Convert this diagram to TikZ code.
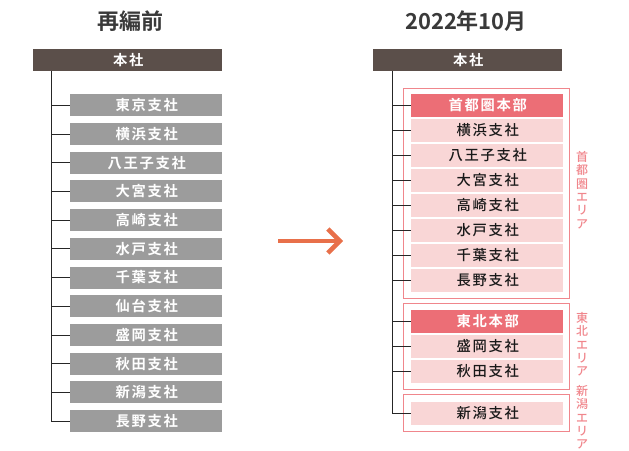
\documentclass[tikz,border=0pt]{standalone}
\usepackage{fontspec}
\setmainfont{Noto Sans CJK JP}
\newfontfamily\jpb{Noto Sans CJK JP Bold}[LetterSpace=12]
\newfontfamily\jpr{Noto Sans CJK JP Medium}[LetterSpace=12]
\newfontfamily\jpt{Noto Sans CJK JP Bold}
\newfontfamily\jpa{Noto Sans CJK JP Medium}
\usetikzlibrary{arrows.meta}
\definecolor{hq}{HTML}{5B4F4A}
\definecolor{greybox}{HTML}{9C9C9C}
\definecolor{hdr}{HTML}{EC6E76}
\definecolor{lpink}{HTML}{F9D6D6}
\definecolor{frame}{HTML}{F0868C}
\definecolor{arrowc}{HTML}{E8704A}
\definecolor{ttl}{HTML}{3A3A3A}
\begin{document}
\begin{tikzpicture}[x=1pt,y=-1pt,
  hqbox/.style={fill=hq,text=white,minimum width=189pt,minimum height=22pt,inner sep=0pt,font=\jpb\fontsize{14.3}{14}\selectfont},
  oldbox/.style={fill=greybox,text=white,minimum width=152pt,minimum height=22pt,inner sep=0pt,font=\jpb\fontsize{14.3}{14}\selectfont},
  hdrbox/.style={fill=hdr,text=white,minimum width=152pt,minimum height=23pt,inner sep=0pt,font=\jpb\fontsize{14.3}{14}\selectfont},
  newbox/.style={fill=lpink,text=black!90,minimum width=152pt,minimum height=23pt,inner sep=0pt,font=\jpr\fontsize{14.3}{14}\selectfont},
  areaframe/.style={draw=frame,line width=1pt},
  arealabel/.style={text=frame,font=\jpa\fontsize{12}{13.4}\selectfont,align=center,anchor=north,inner sep=0pt},
  tree/.style={draw=black!85,line width=0.8pt},
  title/.style={text=ttl,font=\jpt\fontsize{22}{22}\selectfont}]
\useasboundingbox (0,0) rectangle (629,450);
% titles
\node[title] (t1) at (130,21) {再編前};
\node[title] (t2) at (466,21) {2022年10月};
% left side
\node[hqbox] (L0) at (127.5,60) {\hspace{1.5pt}本社};
\foreach \i/\t in {0/東京支社,1/横浜支社,2/八王子支社,3/大宮支社,4/高崎支社,5/水戸支社,6/千葉支社,7/仙台支社,8/盛岡支社,9/秋田支社,10/新潟支社,11/長野支社}{
  \node[oldbox] (L\i b) at (146,105.3+28.7*\i) {\hspace{1.5pt}\t};
}
\coordinate (Ltop) at (51,71);
\coordinate (Lbot) at (51,421.2);
\draw[tree] (Ltop) -- (Lbot);
\foreach \i in {0,...,11}{
  \draw[tree] (L\i b.west -| Ltop) -- (L\i b.west);
}
% arrow
\coordinate (A1) at (278,241);
\coordinate (A2) at (343,241);
\draw[arrowc,line width=4.5pt,-{Straight Barb[length=12pt,width=24pt,line width=4.5pt]}] (A1) -- (A2);
% right side
\node[hqbox] (R0) at (467.5,60) {\hspace{1.5pt}本社};
\draw[areaframe] (403,88) rectangle (569,298);
\draw[areaframe] (403,303) rectangle (569,389);
\draw[areaframe] (403,394) rectangle (569,431);
\node[hdrbox] (R1) at (487,105.5) {\hspace{1.5pt}首都圏本部};
\foreach \i/\t in {1/横浜支社,2/八王子支社,3/大宮支社,4/高崎支社,5/水戸支社,6/千葉支社,7/長野支社}{
  \node[newbox] (R1\i) at (487,105.5+25*\i) {\hspace{1.5pt}\t};
}
\node[hdrbox] (R2) at (487,321.5) {\hspace{1.5pt}東北本部};
\node[newbox] (R21) at (487,346.5) {\hspace{1.5pt}盛岡支社};
\node[newbox] (R22) at (487,371.5) {\hspace{1.5pt}秋田支社};
\node[newbox] (R3) at (487,413.5) {\hspace{1.5pt}新潟支社};
\coordinate (Rtop) at (392.5,71);
\coordinate (Rbot) at (392.5,413.5);
\draw[tree] (Rtop) -- (Rbot);
\foreach \n in {R1,R11,R12,R13,R14,R15,R16,R17,R2,R21,R22,R3}{
  \draw[tree] (\n.west -| Rtop) -- (\n.west);
}
% area labels
\node[arealabel] (a1) at (582,151) {首\\都\\圏\\エ\\リ\\ア};
\node[arealabel] (a2) at (582,312) {東\\北\\エ\\リ\\ア};
\node[arealabel] (a3) at (582,385) {新\\潟\\エ\\リ\\ア};
\end{tikzpicture}
\end{document}
